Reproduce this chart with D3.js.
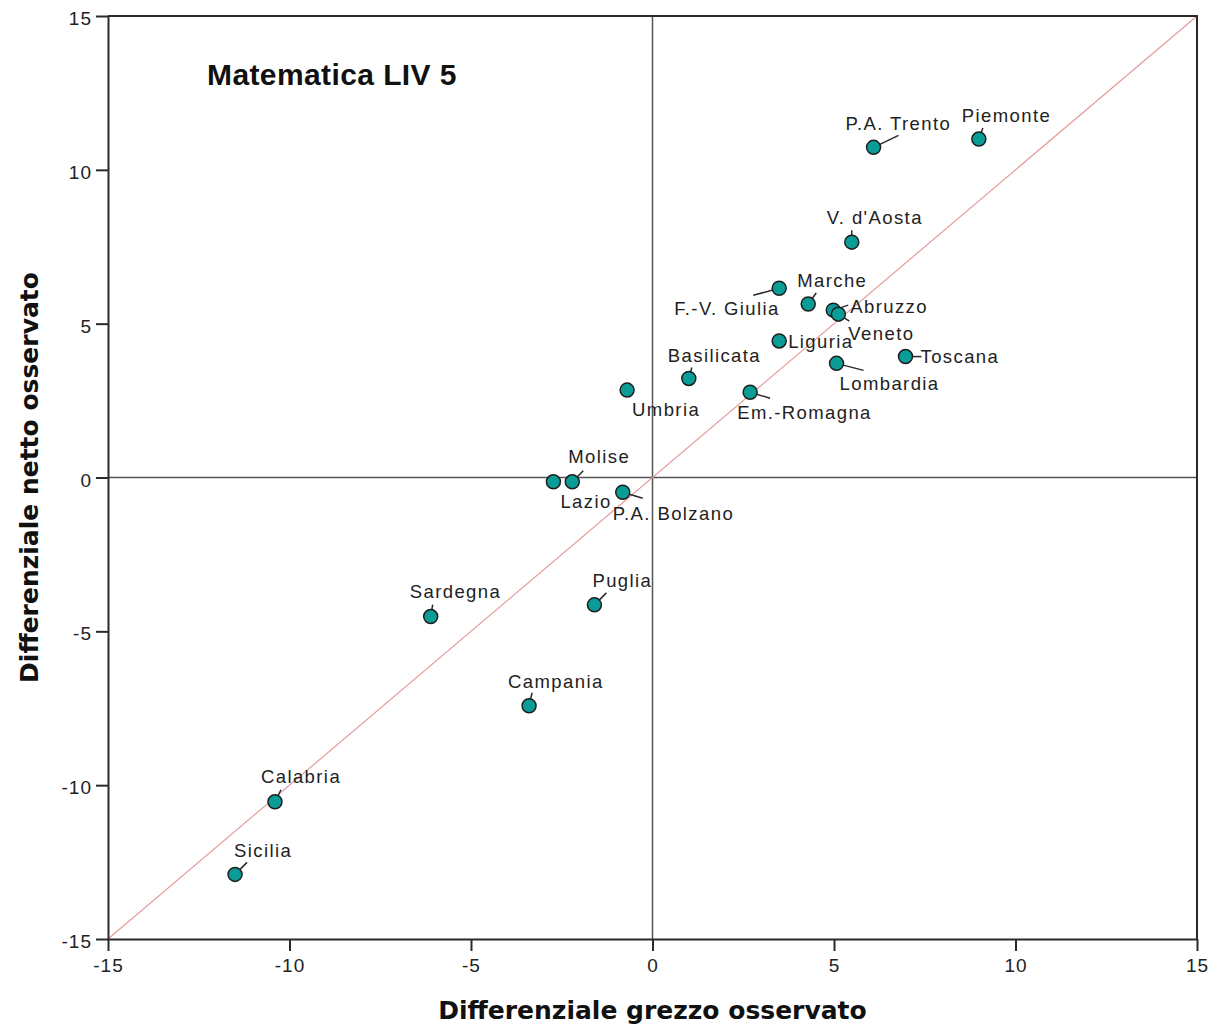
<!DOCTYPE html>
<html lang="it">
<head>
<meta charset="UTF-8">
<title>Matematica LIV 5</title>
<script src="https://d3js.org/d3.v7.min.js"></script>
<style>
    body { margin: 0; background: #fff; }
    .tick text { font-family: "Liberation Sans", Arial, sans-serif; font-size: 19px; letter-spacing: 1px; fill: #222; }
    .lbl { font-family: "Liberation Sans", Arial, sans-serif; font-size: 18.5px; letter-spacing: 1.4px; fill: #222; }
    .axtitle { font-family: "DejaVu Sans", Verdana, sans-serif; font-weight: bold; font-size: 25px; fill: #111; }
    .title { font-family: "Liberation Sans", Arial, sans-serif; font-weight: bold; font-size: 30px; letter-spacing: 0.4px; fill: #111; }
</style>
</head>
<body>
<svg width="1211" height="1026"></svg>
<script>
    // regions and their values (grezzo = x, netto = y)
    const regions = ["Piemonte", "P.A. Trento", "V. d'Aosta", "Marche", "F.-V. Giulia", "Abruzzo",
        "Veneto", "Liguria", "Toscana", "Lombardia", "Basilicata", "Em.-Romagna", "Umbria",
        "Molise", "Lazio", "P.A. Bolzano", "Sardegna", "Puglia", "Campania", "Calabria", "Sicilia"];
    const grezzo = [8.99, 6.09, 5.49, 4.29, 3.49, 4.98, 5.12, 3.49, 6.97, 5.07, 1.0, 2.69, -0.70,
        -2.21, -2.73, -0.82, -6.11, -1.60, -3.40, -10.40, -11.50];
    const netto = [11.0, 10.73, 7.65, 5.64, 6.15, 5.44, 5.31, 4.44, 3.93, 3.71, 3.22, 2.77, 2.84,
        -0.14, -0.14, -0.48, -4.52, -4.14, -7.42, -10.54, -12.90];
    const tickValues = [-15, -10, -5, 0, 5, 10, 15];

    // label placement, pixels from the point: text start (tx,ty), leader end (lx,ly)
    const labelPos = [
        [-17, -17, 4, -11], [-28, -17, 25, -12], [-25, -18, 0, -12], [-11, -17, 8, -11],
        [-105, 27, -26, 7], [17, 3, 15, -5], [10, 26, 11, 7], [9, 7, null, null],
        [15, 6, 16, 0], [3, 27, 27, 7], [-21, -16, 3, -11], [-13, 27, 20, 6],
        [5, 26, null, null], [-4, -19, 11, -11], [7, 26, null, null], [-10, 28, 20, 6],
        [-21, -19, 2, -12], [-2, -18, 12, -12], [-21, -18, 3, -13], [-14, -19, 6, -12],
        [-1, -17, 12, -12]
    ];

    const svg = d3.select("svg");
    const margin = {top: 16, right: 14, bottom: 87, left: 108};
    const W = 1211, H = 1026;

    const x = d3.scaleLinear().domain([-15, 15]).range([margin.left, W - margin.right]);
    const y = d3.scaleLinear().domain([-15, 15]).range([H - margin.bottom, margin.top]);

    const data = regions.map((r, i) => ({name: r, gx: grezzo[i], nt: netto[i], pos: labelPos[i]}));

    // zero reference lines
    svg.append("line")
        .attr("x1", x(0)).attr("x2", x(0)).attr("y1", y(15)).attr("y2", y(-15))
        .attr("stroke", "#555").attr("stroke-width", 1.5);
    svg.append("line")
        .attr("x1", x(-15)).attr("x2", x(15)).attr("y1", y(0)).attr("y2", y(0))
        .attr("stroke", "#555").attr("stroke-width", 1.5);

    // diagonal y = x
    svg.append("line")
        .attr("x1", x(-15)).attr("y1", y(-15)).attr("x2", x(15)).attr("y2", y(15))
        .attr("stroke", "#e79a9a").attr("stroke-width", 1.2);

    // frame (top and right)
    svg.append("path")
        .attr("d", `M${x(-15)},${y(15)}H${x(15)}V${y(-15)}`)
        .attr("fill", "none").attr("stroke", "#2a2a2a").attr("stroke-width", 2);

    // axes (plain hyphen for negatives, like the original)
    const fmt = d => String(d);
    const xAxis = svg.append("g")
        .attr("transform", `translate(0,${y(-15)})`)
        .call(d3.axisBottom(x).tickValues(tickValues).tickFormat(fmt).tickSize(12).tickPadding(8).tickSizeOuter(0));
    const yAxis = svg.append("g")
        .attr("transform", `translate(${x(-15)},0)`)
        .call(d3.axisLeft(y).tickValues(tickValues).tickFormat(fmt).tickSize(12).tickPadding(4).tickSizeOuter(0));
    [xAxis, yAxis].forEach(g => {
        g.select(".domain").attr("stroke", "#2a2a2a").attr("stroke-width", 2);
        g.selectAll(".tick line").attr("stroke", "#2a2a2a").attr("stroke-width", 2);
    });
    yAxis.selectAll(".tick text").attr("dy", "0.45em");

    // leader lines
    svg.append("g").selectAll("line")
        .data(data.filter(d => d.pos[2] !== null))
        .join("line")
        .attr("x1", d => x(d.gx)).attr("y1", d => y(d.nt))
        .attr("x2", d => x(d.gx) + d.pos[2]).attr("y2", d => y(d.nt) + d.pos[3])
        .attr("stroke", "#2a2a2a").attr("stroke-width", 1.5);

    // points
    svg.append("g").selectAll("circle")
        .data(data)
        .join("circle")
        .attr("cx", d => x(d.gx)).attr("cy", d => y(d.nt))
        .attr("r", 7)
        .attr("fill", "#0a9c96")
        .attr("stroke", "#1e1e1e").attr("stroke-width", 1.5);

    // labels
    svg.append("g").selectAll("text")
        .data(data)
        .join("text")
        .attr("class", "lbl")
        .attr("x", d => x(d.gx) + d.pos[0])
        .attr("y", d => y(d.nt) + d.pos[1])
        .text(d => d.name);

    // titles
    svg.append("text").attr("class", "title")
        .attr("x", 207).attr("y", 85)
        .text("Matematica LIV 5");
    svg.append("text").attr("class", "axtitle")
        .attr("x", x(0)).attr("y", 1019).attr("text-anchor", "middle")
        .text("Differenziale grezzo osservato");
    svg.append("text").attr("class", "axtitle")
        .attr("transform", `translate(38,${y(0)}) rotate(-90)`)
        .attr("text-anchor", "middle")
        .text("Differenziale netto osservato");
</script>
</body>
</html>
